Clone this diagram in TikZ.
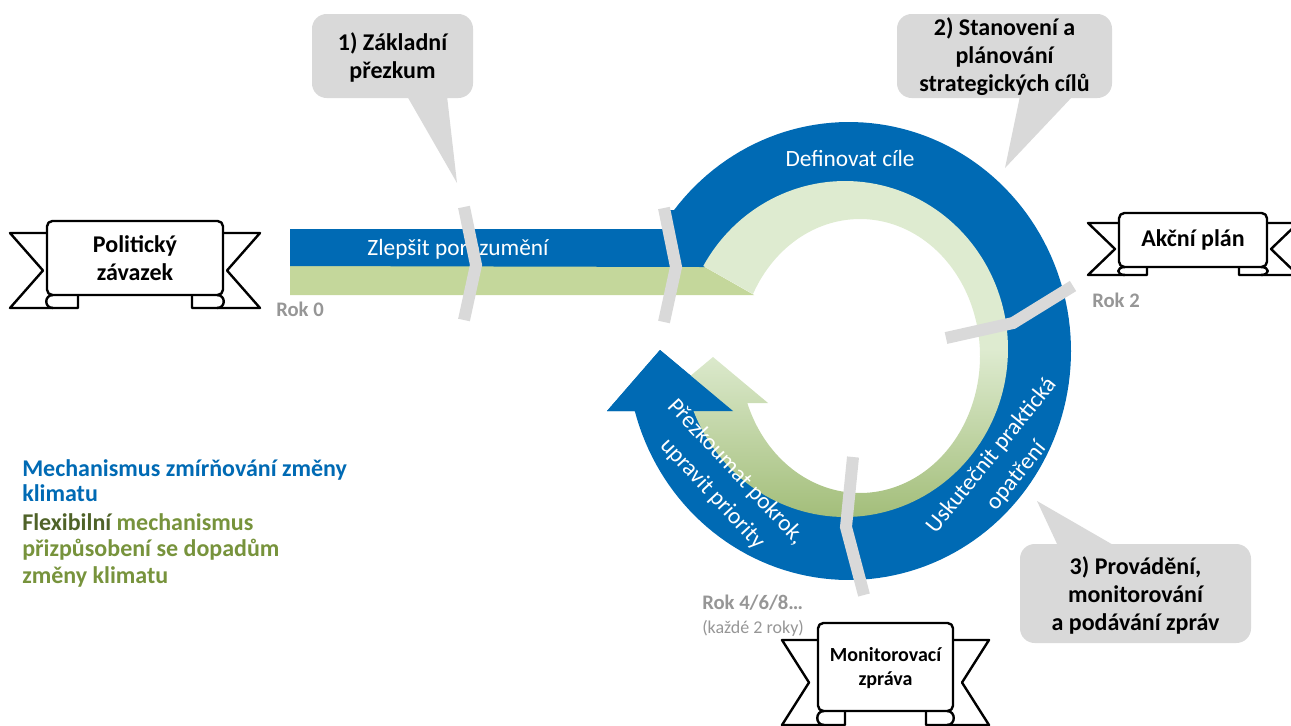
\documentclass[tikz,border=0pt]{standalone}
\usepackage{fontspec}
\setmainfont{Carlito}
\definecolor{cblue}{RGB}{0,106,180}
\definecolor{cgray}{RGB}{217,217,217}
\definecolor{cbar}{RGB}{196,215,155}
\definecolor{glight}{RGB}{222,235,208}
\definecolor{gdark}{RGB}{163,190,122}
\definecolor{rokgray}{RGB}{150,150,150}
\definecolor{legolive}{RGB}{79,98,40}
\definecolor{leggreen}{RGB}{119,147,60}
\tikzset{
  sep/.style={cgray, line width=9pt, line cap=butt, line join=miter},
  ribline/.style={draw=black, line width=1.8pt, line join=round},
  calltxt/.style={font=\bfseries\fontsize{18}{21}\selectfont, align=center, inner sep=0pt, text=black},
  montxt/.style={font=\bfseries\fontsize{15}{18.5}\selectfont, align=center, inner sep=0pt, text=black},
  roktxt/.style={font=\bfseries\fontsize{15.5}{18}\selectfont, text=rokgray, inner sep=0pt},
  ringtxt/.style={text=white, font=\fontsize{17.5}{24}\selectfont, align=center, inner sep=0pt},
  legtxt/.style={font=\bfseries\fontsize{18}{20}\selectfont, inner sep=0pt, anchor=base west}
}
\newcommand{\myribbon}[9]{%
  \pgfmathsetmacro{\rTy}{#2+#7}%
  \pgfmathsetmacro{\rBy}{#4+#8}%
  \pgfmathsetmacro{\rMy}{(\rTy+\rBy)/2}%
  \pgfmathsetmacro{\rLo}{#1-#5}%
  \pgfmathsetmacro{\rLn}{#1-#5+#6}%
  \pgfmathsetmacro{\rLf}{#1+#9}%
  \pgfmathsetmacro{\rRo}{#3+#5}%
  \pgfmathsetmacro{\rRn}{#3+#5-#6}%
  \pgfmathsetmacro{\rRf}{#3-#9}%
  \fill[white] (#1,\rTy) -- (\rLo,\rTy) -- (\rLn,\rMy) -- (\rLo,\rBy) -- (\rLf,\rBy) -- (\rLf,#4) -- (#1,#4) -- cycle;
  \draw[ribline] (#1,\rTy) -- (\rLo,\rTy) -- (\rLn,\rMy) -- (\rLo,\rBy) -- (\rLf,\rBy) -- (\rLf,#4);
  \fill[white] (#3,\rTy) -- (\rRo,\rTy) -- (\rRn,\rMy) -- (\rRo,\rBy) -- (\rRf,\rBy) -- (\rRf,#4) -- (#3,#4) -- cycle;
  \draw[ribline] (#3,\rTy) -- (\rRo,\rTy) -- (\rRn,\rMy) -- (\rRo,\rBy) -- (\rRf,\rBy) -- (\rRf,#4);
  \draw[ribline, fill=white, rounded corners=4pt] (#1,#2) rectangle (#3,#4);
  \draw[ribline] ({#1+6},#4) .. controls ({#1-3},#4) and ({#1-3},\rBy) .. ({#1+6},\rBy);
  \draw[ribline] ({#3-6},#4) .. controls ({#3+3},#4) and ({#3+3},\rBy) .. ({#3-6},\rBy);
}
\begin{document}
\begin{tikzpicture}[x=0.75pt, y=-0.75pt]
\useasboundingbox (0,0) rectangle (1291,725);

% green bar
\fill[cbar] (290,266) -- (703,266) -- (754,295) -- (290,295) -- cycle;

% blue bar + ring with arrow
\fill[cblue] (290,229) -- (663,229) -- (667,210)
  -- plot[domain=-142:164.8, samples=150] ({849+222*cos(\x)},{351+229*sin(\x)})
  -- (607,411) -- (660,350) -- (733,411)
  -- plot[domain=158.3:-150.4, samples=150] ({845+161*cos(\x)},{349+166*sin(\x)})
  -- (290,266) -- cycle;

% green ring with arrow
\shade[top color=glight, bottom color=gdark, middle color=glight]
  plot[domain=-150.4:161.3, samples=150] ({845+163*cos(\x)},{349+168*sin(\x)})
  -- (658,403) -- (713,357) -- (768,403)
  -- plot[domain=159.9:-153.1, samples=150] ({860+120*cos(\x)},{356+137*sin(\x)})
  -- cycle;

% blue arrowhead over green
\fill[cblue] (607,411) -- (660,350) -- (733,411) -- cycle;

% ring texts
\node[ringtxt] (tdef) at (850,158) {Definovat cíle};
\node[ringtxt] (tzl) at (458,249) {Zlepšit porozumění};
\node[ringtxt, rotate=51] (tusk) at (1004,466) {Uskutečnit praktická\\opatření};
\node[ringtxt, rotate=-47] (tpre) at (724,483) {Přezkoumat pokrok,\\upravit priority};

% separators
\draw[sep] (464,207) -- (476,265) -- (464,320);
\draw[sep] (664,208) -- (676,267) -- (664,322);
\draw[sep] (946,338) -- (1013,323) -- (1073,286);
\draw[sep] (853,457) -- (846,527) -- (864,595);

% callouts
\fill[cgray, rounded corners=11pt] (312,14) rectangle (473,98);
\fill[cgray] (407,96) -- (457,183) -- (447,96) -- cycle;
\node[calltxt] (c1) at (392.5,57) {1) Základní\\přezkum};

\fill[cgray, rounded corners=11pt] (897,14) rectangle (1112,98);
\fill[cgray] (1020,96) -- (1005,168) -- (1073,96) -- cycle;
\node[calltxt] (c2) at (1004.5,57) {2) Stanovení a\\plánování\\strategických cílů};

\fill[cgray, rounded corners=11pt] (1020,544) rectangle (1251,643);
\fill[cgray] (1058,546) -- (1037,501) -- (1115,546) -- cycle;
\node[calltxt] (c3) at (1135.5,595) {3) Provádění,\\monitorování\\a podávání zpráv};

% ribbons
\myribbon{47}{221}{223}{295}{37}{33}{12}{13}{31}
\node[calltxt] (bpol) at (135,258) {Politický\\závazek};
\myribbon{1119}{213}{1267}{267}{31}{27}{10}{8}{28}
\node[calltxt] (bakc) at (1193,240) {Akční plán};
\myribbon{818}{623}{953}{711}{36}{27}{17}{14}{27}
\node[montxt] (bmon) at (885.5,668) {Monitorovací\\zpráva};

% year labels
\node[roktxt] (r0) at (300,309) {Rok 0};
\node[roktxt] (r2) at (1116,300) {Rok 2};
\node[roktxt, anchor=west] (r4) at (702,603) {Rok 4/6/8…};
\node[font=\fontsize{13.5}{16}\selectfont, text=rokgray, inner sep=0pt, anchor=west] (r4b) at (702,628) {(každé 2 roky)};

% legend
\node[legtxt, text=cblue] (l1) at (22,476) {Mechanismus zmírňování změny};
\node[legtxt, text=cblue] (l2) at (22,501) {klimatu};
\node[legtxt] (l3) at (22,530) {\textcolor{legolive}{Flexibilní} \textcolor{leggreen}{mechanismus}};
\node[legtxt, text=leggreen] (l4) at (22,556) {přizpůsobení se dopadům};
\node[legtxt, text=leggreen] (l5) at (22,583) {změny klimatu};
\end{tikzpicture}
\end{document}
